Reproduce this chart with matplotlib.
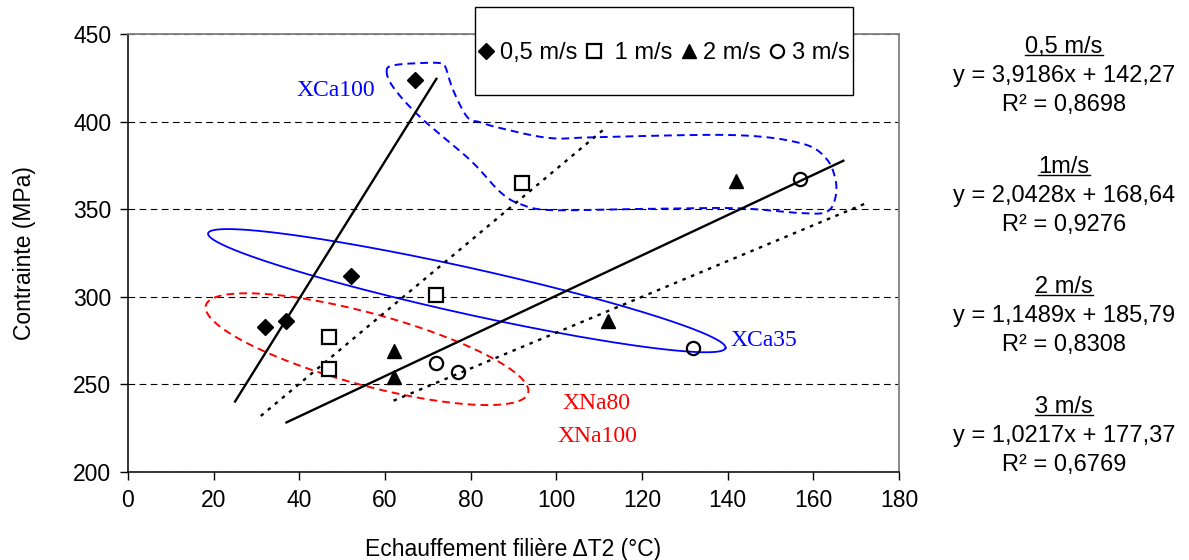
import numpy as np
import matplotlib.pyplot as plt
from matplotlib.lines import Line2D
from matplotlib.patches import Rectangle

plt.rcParams["font.family"] = ["Liberation Sans", "DejaVu Sans"]

# data
legend_labels = ["0,5 m/s", " 1 m/s", "2 m/s", "3 m/s"]
eq_titles = ["0,5 m/s", "1m/s", "2 m/s", "3 m/s"]
x_05 = [32, 37, 52, 67]
y_05 = [283, 286, 312, 424]
x_1 = [47, 47, 72, 92]
y_1 = [277, 259, 301, 365]
x_2 = [62, 62, 112, 142]
y_2 = [269, 254, 286, 366]
x_3 = [72, 77, 132, 157]
y_3 = [262, 257, 271, 367]
slopes = [3.9186, 2.0428, 1.1489, 1.0217]
intercepts = [142.27, 168.64, 185.79, 177.37]
r2 = ["0,8698", "0,9276", "0,8308", "0,6769"]
trend_from = [25, 31, 37, 62]
trend_to = [72, 111, 167, 172]
x_ticks = list(range(0, 181, 20))
y_ticks = list(range(200, 451, 50))

# hand-drawn group outline (XCa100), in data units
blob_x = [60.4, 61.9, 68.2, 79.9, 86.9, 91.6, 98.6, 118.0, 141.4, 157.0, 162.9, 165.0,
          165.2, 162.9, 157.0, 141.4, 110.3, 98.6, 86.9, 82.2, 79.2, 75.9, 74.1, 72.9,
          68.2, 62.4]
blob_y = [429.4, 419.7, 402.6, 378.0, 359.8, 352.9, 349.5, 350.1, 350.6, 347.8, 348.3, 355.2,
          366.6, 379.2, 387.7, 392.3, 391.2, 390.6, 396.3, 399.7, 402.6, 418.0, 431.2, 433.4,
          433.4, 432.3]

W, H = 1189, 560
fig = plt.figure(figsize=(W / 100, H / 100), dpi=100)
ax = fig.add_axes([128 / W, 1 - 472 / H, (899 - 128) / W, (472 - 34) / H])
ax.set_xlim(0, 180)
ax.set_ylim(200, 450)
ax.set_xticks(x_ticks)
ax.set_yticks(y_ticks)
ax.tick_params(labelsize=16.5, length=6, width=1, direction="out", pad=6)
ax.yaxis.grid(True, linestyle=(0, (6, 4)), color="black", lw=0.8)
ax.set_axisbelow(True)
for s in ["left", "bottom"]:
    ax.spines[s].set_linewidth(1.1)
for s in ["top", "right"]:
    ax.spines[s].set_color("#808080")
    ax.spines[s].set_linewidth(1.3)

ax.set_xlabel("Echauffement filière ΔT2 (°C)", fontsize=16.5, labelpad=19)
ax.set_ylabel("Contrainte (MPa)", fontsize=16.5, labelpad=27)

# trendlines
styles = ["-", (0, (1.5, 2.4)), "-", (0, (1.5, 2.4))]
for a, b, x0, x1, ls in zip(slopes, intercepts, trend_from, trend_to, styles):
    xs = np.array([x0, x1])
    ax.plot(xs, a * xs + b, color="black", lw=1.7, ls=ls, zorder=3)

# points
h1, = ax.plot(x_05, y_05, "D", color="black", ms=8, ls="none", zorder=4)
h2, = ax.plot(x_1, y_1, "s", mfc="white", mec="black", mew=1.6, ms=9.5, ls="none", zorder=4)
h3, = ax.plot(x_2, y_2, "^", color="black", ms=10, ls="none", zorder=4)
h4, = ax.plot(x_3, y_3, "o", mfc="none", mec="black", mew=1.6, ms=9.5, ls="none", zorder=4)


def ellipse_pts(cx, cy, a, b, ang):
    t = np.linspace(0, 2 * np.pi, 300)
    c = ax.transData.transform((cx, cy))
    th = np.deg2rad(ang)
    px = c[0] + a * np.cos(t) * np.cos(th) - b * np.sin(t) * np.sin(th)
    py = c[1] + a * np.cos(t) * np.sin(th) + b * np.sin(t) * np.cos(th)
    return ax.transData.inverted().transform(np.column_stack([px, py]))


def smooth_closed(xs, ys, n=16):
    p = np.column_stack([xs, ys])
    m = len(p)
    out = []
    t = np.linspace(0, 1, n, endpoint=False)[:, None]
    for i in range(m):
        p0, p1, p2, p3 = p[i - 1], p[i], p[(i + 1) % m], p[(i + 2) % m]
        out.append(0.5 * (2 * p1 + (-p0 + p2) * t + (2 * p0 - 5 * p1 + 4 * p2 - p3) * t ** 2
                          + (-p0 + 3 * p1 - 3 * p2 + p3) * t ** 3))
    out = np.vstack(out)
    return np.vstack([out, out[:1]])


e1 = ellipse_pts(79.1, 303.5, 265, 23, -12.5)
ax.plot(e1[:, 0], e1[:, 1], color="blue", lw=1.3, zorder=2)
e2 = ellipse_pts(55.8, 270.1, 167, 36, -15.2)
ax.plot(e2[:, 0], e2[:, 1], color="red", lw=1.4, ls=(0, (4, 2.6)), zorder=2)
bl = smooth_closed(blob_x, blob_y)
ax.plot(bl[:, 0], bl[:, 1], color="blue", lw=1.4, ls=(0, (4, 2.6)), zorder=2)

serif = ["Liberation Serif", "DejaVu Serif"]
ax.text(48.4, 418, "XCa100", color="blue", fontsize=17, family=serif, ha="center", va="center")
ax.text(140.7, 275, "XCa35", color="blue", fontsize=17, family=serif, ha="left", va="center")
ax.text(101.4, 239, "XNa80", color="red", fontsize=17, family=serif, ha="left", va="center")
ax.text(100.2, 220, "XNa100", color="red", fontsize=17, family=serif, ha="left", va="center")

# legend box sticking out above the plot
ax.add_patch(Rectangle((475 / W, 1 - 95 / H), (853 - 475) / W, 88 / H, transform=fig.transFigure,
                       facecolor="white", edgecolor="black", lw=1, clip_on=False, zorder=4.5))
ax.legend([h1, h2, h3, h4], legend_labels, loc="center", ncol=4, frameon=False,
          bbox_to_anchor=((475 + 853) / 2 / W, 1 - 53 / H), bbox_transform=fig.transFigure,
          fontsize=17, handlelength=0.6, handletextpad=0.3, columnspacing=0.4, borderpad=0.1)

# equations on the right
titles = []
for i in range(4):
    y0 = 47 + i * 120
    eq = "y = {}x + {}".format(f"{slopes[i]:.4f}".replace(".", ","),
                               f"{intercepts[i]:.2f}".replace(".", ","))
    titles.append(fig.text(1064 / W, 1 - y0 / H, eq_titles[i], fontsize=17, ha="center", va="center"))
    fig.text(1064 / W, 1 - (y0 + 29) / H, eq, fontsize=17, ha="center", va="center")
    fig.text(1064 / W, 1 - (y0 + 58) / H, "R² = " + r2[i], fontsize=17, ha="center", va="center")

fig.canvas.draw()
for t in titles:
    bb = t.get_window_extent()
    yy = bb.y0 + 3
    fig.add_artist(Line2D([bb.x0 / W, bb.x1 / W], [yy / H, yy / H], transform=fig.transFigure,
                          color="black", lw=1))

fig.savefig("out.png", dpi=100)
